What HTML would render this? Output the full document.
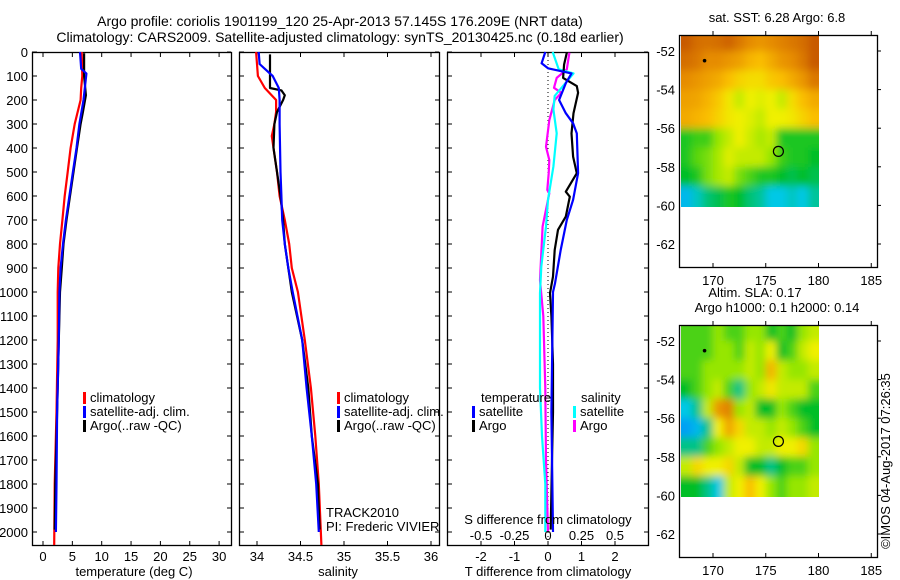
<!DOCTYPE html>
<html><head><meta charset="utf-8">
<style>
html,body{margin:0;padding:0;background:#fff;}
svg{display:block;font-family:"Liberation Sans",sans-serif;}
text{fill:#000;}
</style></head>
<body>
<svg id="chart" width="900" height="580" viewBox="0 0 900 580">
<defs>
<filter id="blur" x="-10%" y="-10%" width="120%" height="120%"><feGaussianBlur stdDeviation="4"/></filter>
<clipPath id="clip1"><rect x="681" y="36" width="138" height="171"/></clipPath>
<clipPath id="clip2"><rect x="681" y="326" width="138" height="171"/></clipPath>
</defs>
<text x="340" y="26" font-size="14" text-anchor="middle">Argo profile: coriolis 1901199_120 25-Apr-2013 57.145S 176.209E (NRT data)</text>
<text x="340" y="42" font-size="14" text-anchor="middle">Climatology: CARS2009. Satellite-adjusted climatology: synTS_20130425.nc (0.18d earlier)</text>
<g id="g"></g>
</svg>
<script>
// ---------- data ----------
const depthTicks=[0,100,200,300,400,500,600,700,800,900,1000,1100,1200,1300,1400,1500,1600,1700,1800,1900,2000];
const tempTicks=[0,5,10,15,20,25,30];
const salTicks=[34,34.5,35,35.5,36];
const salTickLabels=["34","34.5","35","35.5","36"];
const tdiffTicks=[-2,-1,0,1,2];
const sdiffTicks=[-0.5,-0.25,0,0.25,0.5];
const sdiffTickLabels=["-0.5","-0.25","0","0.25","0.5"];

const tempClimDepth=[0,100,150,200,300,400,500,600,700,800,900,1000,1200,1500,1800,2054];
const tempClim=[6.6,6.7,6.5,6.4,5.4,4.7,4.2,3.7,3.3,2.9,2.6,2.5,2.5,2.3,2.0,1.9];
const tempSatDepth=[0,70,90,200,300,400,500,600,700,800,900,1000,1200,1500,1800,2000];
const tempSat=[6.3,6.5,7.4,6.9,6.2,5.7,5.1,4.5,3.9,3.4,3.0,2.8,2.7,2.4,2.3,2.2];
const tempArgoDepth=[5,100,180,250,300,400,500,600,700,800,900,1000,1200,1400,1600,1800,1990];
const tempArgo=[7.0,7.0,7.3,6.8,6.4,5.8,5.2,4.6,4.0,3.5,3.2,2.9,2.7,2.5,2.3,2.1,2.0];

const salClimDepth=[0,100,150,200,250,300,350,400,500,600,700,800,900,1000,1200,1400,1600,1800,2054];
const salClim=[33.99,34.01,34.09,34.22,34.22,34.2,34.17,34.19,34.23,34.26,34.32,34.37,34.40,34.47,34.55,34.62,34.67,34.71,34.74];
const salSatDepth=[0,50,70,100,150,200,300,500,600,700,800,900,1000,1200,1400,1600,1800,2000];
const salSat=[34.02,34.03,34.09,34.18,34.25,34.26,34.26,34.27,34.28,34.29,34.32,34.36,34.41,34.52,34.57,34.63,34.68,34.71];
const salArgoDepth=[10,150,160,180,200,250,300,400,500,600,700,800,900,1000,1200,1400,1600,1800,1990];
const salArgo=[34.15,34.15,34.28,34.32,34.30,34.23,34.20,34.19,34.23,34.27,34.30,34.32,34.36,34.40,34.52,34.59,34.63,34.70,34.72];

const tdSatDepth=[0,47,68,89,130,200,255,297,339,505,616,700,825,964,1000,1500,2000];
const tdSat=[-0.08,-0.19,0,0.7,0.53,0.33,0.53,0.75,0.86,0.9,0.75,0.56,0.38,0.21,0.15,0.1,0.15];
const tdArgoDepth=[3,52,108,142,170,255,339,436,505,582,603,686,741,825,936,1005,1100,1300,1500,1700,1990];
const tdArgo=[0.56,0.48,0.45,0.86,0.9,0.76,0.7,0.75,0.86,0.53,0.65,0.53,0.3,0.2,0.15,0.06,0.1,0.15,0.15,0.12,0.08];
const sdSatDepth=[0,72,89,130,183,239,339,477,616,727,894,1005,1400,1600,1800,2000];
const sdSat=[0.035,0.08,0.19,0.13,0.05,0.04,0.065,0.04,0,-0.015,-0.05,-0.06,-0.06,-0.045,-0.02,-0.02];
const sdArgoDepth=[3,72,108,149,170,200,284,395,450,505,575,589,727,950,1100,1400,1700,2000];
const sdArgo=[0.16,0.14,0.065,0.045,0.1,0.05,0.01,-0.015,0.01,0.005,-0.005,0.01,-0.04,-0.06,-0.035,-0.02,-0.015,0];

const lonTicks=[170,175,180,185];
const latTicks=[-52,-54,-56,-58,-60,-62];
const sstGrid=[
[0.9,0.86,0.85,0.86,0.88,0.84,0.8,0.78,0.8,0.82,0.84,0.86,0.92],
[0.86,0.84,0.8,0.8,0.78,0.76,0.72,0.7,0.74,0.78,0.8,0.84,0.9],
[0.8,0.78,0.76,0.74,0.7,0.66,0.64,0.64,0.68,0.7,0.74,0.78,0.84],
[0.76,0.75,0.72,0.68,0.62,0.55,0.6,0.58,0.6,0.55,0.64,0.7,0.74],
[0.74,0.72,0.7,0.66,0.62,0.6,0.58,0.55,0.6,0.6,0.62,0.66,0.7],
[0.42,0.44,0.44,0.5,0.55,0.6,0.56,0.52,0.55,0.42,0.42,0.42,0.42],
[0.42,0.46,0.48,0.52,0.58,0.55,0.55,0.55,0.5,0.44,0.42,0.42,0.4],
[0.4,0.42,0.48,0.52,0.55,0.48,0.45,0.42,0.42,0.4,0.38,0.4,0.38],
[0.28,0.32,0.36,0.38,0.42,0.4,0.36,0.34,0.3,0.3,0.32,0.3,0.34]];
const slaGrid=[
[0.45,0.45,0.45,0.5,0.45,0.45,0.5,0.5,0.4,0.45,0.4,0.5,0.55],
[0.45,0.45,0.45,0.5,0.5,0.45,0.55,0.5,0.6,0.4,0.45,0.55,0.6],
[0.45,0.45,0.5,0.5,0.5,0.5,0.55,0.5,0.72,0.55,0.5,0.5,0.55],
[0.4,0.45,0.5,0.55,0.45,0.35,0.5,0.55,0.62,0.55,0.55,0.55,0.45],
[0.3,0.35,0.55,0.78,0.82,0.5,0.55,0.4,0.4,0.5,0.45,0.4,0.4],
[0.25,0.28,0.35,0.6,0.75,0.65,0.55,0.55,0.5,0.55,0.5,0.45,0.4],
[0.35,0.35,0.45,0.5,0.55,0.6,0.6,0.55,0.55,0.6,0.6,0.65,0.5],
[0.55,0.65,0.6,0.6,0.65,0.55,0.4,0.4,0.35,0.4,0.45,0.45,0.5],
[0.4,0.4,0.35,0.3,0.55,0.6,0.7,0.6,0.5,0.45,0.5,0.5,0.55]];

// ---------- helpers ----------
const NS="http://www.w3.org/2000/svg";
const G=document.getElementById('g');
function mk(tag,attrs,parent){const e=document.createElementNS(NS,tag);for(const k in attrs)e.setAttribute(k,attrs[k]);(parent||G).appendChild(e);return e;}
function txt(x,y,s,size,anchor,parent){const t=mk('text',{x:x,y:y,'font-size':size||13,'text-anchor':anchor||'middle'},parent);t.textContent=s;return t;}
const Y0=52,PY=0.24;
function yD(d){return Y0+d*PY;}
function xT(t){return 43+t*5.87;}
function xS(s){return 257+(s-34)*87;}
function xTD(v){return 548+v*33.5;}
function xSD(v){return 548+v*134;}

function panel(x0,x1,name){
  const r=mk('rect',{x:x0+0.5,y:52.5,width:x1-x0,height:493,fill:'none',stroke:'#000','stroke-width':1.3});
  
  
}
function line(xs,ds,fx,color,name,w){
  const pts=xs.map((v,i)=>fx(v).toFixed(1)+','+yD(ds[i]).toFixed(1)).join(' ');
  const p=mk('polyline',{points:pts,fill:'none',stroke:color,'stroke-width':w||2.2,'stroke-linejoin':'round'});
  
  
}
function xticks(vals,labels,fx,x0,x1,name){
  const g=mk('g',{});
  
  
  vals.forEach((v,i)=>{const x=fx(v);
    mk('line',{x1:x,x2:x,y1:545,y2:541,stroke:'#000'},g);
    mk('line',{x1:x,x2:x,y1:53,y2:57,stroke:'#000'},g);
    txt(x,561,labels[i],13,'middle',g);});
}
function yticks(x0,x1,withLabels){
  const g=mk('g',{});
  
  
  depthTicks.forEach(d=>{const y=yD(d);
    mk('line',{x1:x0,x2:x0+5,y1:y,y2:y,stroke:'#000'},g);
    mk('line',{x1:x1-4,x2:x1,y1:y,y2:y,stroke:'#000'},g);
    if(withLabels) txt(28,y+5,String(d),13,'end',g);});
}
function legendEntry(x,y,color,label,name){
  const g=mk('g',{});
  
  
  mk('rect',{x:x,y:y-10,width:3,height:12,fill:color},g);
  txt(x+7,y,label,13,'start',g);
}

// ---------- panel 1: temperature ----------
panel(32,231,'temperature-panel');
yticks(32,231,true);
xticks(tempTicks,tempTicks.map(String),xT,32,231,'temperature-x-axis');
txt(134,576,'temperature (deg C)',13);
line(tempClim,tempClimDepth,xT,'#f00','temp-climatology-line');
line(tempArgo,tempArgoDepth,xT,'#000','temp-argo-line');
line(tempSat,tempSatDepth,xT,'#00f','temp-satellite-line');
legendEntry(83,402,'#f00','climatology','legend-climatology');
legendEntry(83,416,'#00f','satellite-adj. clim.','legend-satellite-adj');
legendEntry(83,430,'#000','Argo(..raw -QC)','legend-argo');

// ---------- panel 2: salinity ----------
panel(239,439,'salinity-panel');
yticks(239,439,false);
xticks(salTicks,salTickLabels,xS,239,439,'salinity-x-axis');
txt(338,576,'salinity',13);
line(salClim,salClimDepth,xS,'#f00','sal-climatology-line');
line(salArgo,salArgoDepth,xS,'#000','sal-argo-line');
line(salSat,salSatDepth,xS,'#00f','sal-satellite-line');
legendEntry(337,402,'#f00','climatology','legend-climatology-2');
legendEntry(337,416,'#00f','satellite-adj. clim.','legend-satellite-adj-2');
legendEntry(337,430,'#000','Argo(..raw -QC)','legend-argo-2');
txt(326,517,'TRACK2010',13,'start');
txt(326,531,'PI: Frederic VIVIER',13,'start');

// ---------- panel 3: differences ----------
panel(447,648,'difference-panel');
yticks(447,648,false);
xticks(tdiffTicks,tdiffTicks.map(String),xTD,447,648,'tdiff-x-axis');
const zl=mk('line',{x1:548,x2:548,y1:60,y2:540,stroke:'#000','stroke-dasharray':'1,3'});


line(sdArgo,sdArgoDepth,xSD,'#f0f','sdiff-argo-line');
line(sdSat,sdSatDepth,xSD,'#0ff','sdiff-satellite-line');
line(tdArgo,tdArgoDepth,xTD,'#000','tdiff-argo-line');
line(tdSat,tdSatDepth,xTD,'#00f','tdiff-satellite-line');
txt(548,524,'S difference from climatology',13);
sdiffTicks.forEach((v,i)=>{const t=txt(xSD(v),540,sdiffTickLabels[i],13);
});
txt(548,576,'T difference from climatology',13);
txt(481,402,'temperature',13,'start');
txt(581,402,'salinity',13,'start');
legendEntry(472,416,'#00f','satellite','legend-t-satellite');
legendEntry(472,430,'#000','Argo','legend-t-argo');
legendEntry(573,416,'#0ff','satellite','legend-s-satellite');
legendEntry(573,430,'#f0f','Argo','legend-s-argo');

// ---------- maps ----------
const cstops=[[0.2,[0,120,255]],[0.3,[0,200,230]],[0.4,[0,190,40]],[0.5,[150,230,0]],[0.6,[240,240,0]],[0.7,[250,190,0]],[0.8,[230,140,0]],[0.9,[200,90,0]]];
function cmap(v){
  if(v<=cstops[0][0])return 'rgb('+cstops[0][1]+')';
  for(let i=1;i<cstops.length;i++){if(v<=cstops[i][0]){const a=cstops[i-1],b=cstops[i],f=(v-a[0])/(b[0]-a[0]);
    return 'rgb('+a[1].map((c,k)=>Math.round(c+(b[1][k]-c)*f)).join(',')+')';}}
  return 'rgb('+cstops[cstops.length-1][1]+')';
}
function map(top,grid,clipId,name,title1,title2){
  const mLon=l=>713+(l-170)*10.55;
  const mLat=la=>top+16+(-52-la)*19.3;
  const g=mk('g',{});
  
  
  const img=mk('g',{'clip-path':'url(#'+clipId+')'},g);
  const inner=mk('g',{filter:'url(#blur)'},img);
  grid.forEach((row,r)=>row.forEach((v,c)=>{
    const x0=mLon(167+c),x1=mLon(168+c),y0=mLat(-51+(-r)),y1=mLat(-52-r);
    mk('rect',{x:(c===0?x0-10:x0),y:(r===0?y0-10:y0),width:(x1-x0)+(c===0?10:0)+(c===12?10:0)+0.5,height:(y1-y0)+(r===0?10:0)+(r===8?10:0)+0.5,fill:cmap(v)},inner);
  }));
  mk('rect',{x:679.5,y:top+0.5,width:198,height:232,fill:'none',stroke:'#000','stroke-width':1.3},g);
  lonTicks.forEach(l=>{const x=mLon(l);
    mk('line',{x1:x,x2:x,y1:top,y2:top-4,stroke:'#000'},g);
    mk('line',{x1:x,x2:x,y1:top+232,y2:top+228,stroke:'#000'},g);
    txt(x,top+250,String(l),13,'middle',g);});
  latTicks.forEach(la=>{const y=mLat(la);
    mk('line',{x1:877,x2:881,y1:y,y2:y,stroke:'#000'},g);
    txt(675,y+5,String(la),13,'end',g);});
  const dot=mk('circle',{cx:mLon(169.2),cy:mLat(-52.5),r:1.8,fill:'#000'},g);
  
  
  const circ=mk('circle',{cx:mLon(176.2),cy:mLat(-57.2),r:5,fill:'none',stroke:'#000','stroke-width':1.2},g);
  
  
  if(title2){txt(755,top-28,title1,13,'middle',g);txt(777,top-13,title2,13,'middle',g);}
  else txt(777,top-13,title1,13,'middle',g);
}
map(35,sstGrid,'clip1','sst-map','sat. SST: 6.28 Argo: 6.8');
map(325,slaGrid,'clip2','sla-map','Altim. SLA: 0.17','Argo h1000: 0.1 h2000: 0.14');

const cr=txt(0,0,'©IMOS 04-Aug-2017 07:26:35',13,'middle');
cr.setAttribute('transform','translate(890,461) rotate(-90)');


</script>
</body></html>
